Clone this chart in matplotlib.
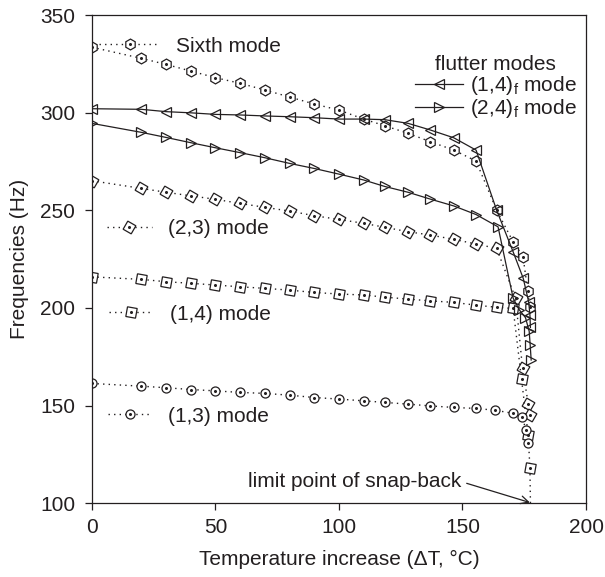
# frequencies of the panel vs temperature rise

import matplotlib
matplotlib.use('Agg')
import matplotlib.pyplot as plt

plt.rcParams['font.family'] = ['Liberation Sans', 'DejaVu Sans']
plt.rcParams['mathtext.fontset'] = 'custom'
plt.rcParams['mathtext.rm'] = 'Liberation Sans'
plt.rcParams['font.size'] = 15

# temperature steps shared by all modes (deg C)
temp_base = [0, 20, 30, 40, 50, 60, 70, 80, 90, 100, 110, 118.5, 128, 137, 146.5, 155.5]

# sixth mode
temp_sixth = temp_base + [163.8, 170.5, 174.5, 176.4, 177.2]
freq_sixth = [333.5, 327.8, 324.7, 321.3, 317.9, 315.0, 311.6, 308.0, 304.4, 301.3,
              296.7, 293.3, 289.4, 285.1, 280.8, 275.2, 250.1, 233.8, 226.3, 208.8, 200.6]

# flutter modes
temp_14f = temp_base + [163.8, 170.5, 174.6, 176.8, 177.3, 177.5]
freq_14f = [302.0, 301.7, 300.5, 299.9, 299.1, 298.8, 298.3, 297.9, 297.4, 296.7,
            296.7, 296.4, 294.5, 291.1, 287.1, 280.8, 250.1, 228.7, 215.1, 203.0, 196.3, 190.0]
temp_24f = temp_base + [164.4, 170.5, 173.0, 175.5, 177.0, 177.4, 177.8]
freq_24f = [294.5, 289.9, 287.3, 284.6, 282.0, 279.5, 276.9, 274.0, 271.4, 268.5,
            265.5, 262.2, 259.2, 255.7, 252.2, 247.8, 241.5, 205.0, 199.0, 195.0, 188.0, 181.0, 173.3]

# (2,3) mode
temp_23 = temp_base + [163.8, 171.5, 174.3, 176.6, 177.3]
freq_23 = [265.1, 261.2, 259.2, 257.4, 255.6, 253.5, 251.5, 249.6, 247.2, 245.3,
           243.3, 241.3, 239.0, 237.3, 235.1, 232.7, 230.5, 205.0, 169.0, 151.0, 145.2]

# (1,4) mode
temp_14 = temp_base + [163.8, 170.5, 173.9, 176.6, 177.3, 177.6]
freq_14 = [215.9, 214.6, 213.4, 212.6, 211.7, 210.8, 210.0, 209.1, 207.9, 207.1,
           206.6, 205.5, 204.5, 203.6, 202.8, 201.4, 200.3, 199.7, 163.4, 134.8, 117.8, 92.0]

# (1,3) mode
temp_13 = temp_base + [163.1, 170.5, 173.9, 175.9, 176.6]
freq_13 = [161.3, 159.9, 159.1, 158.2, 157.5, 156.7, 156.2, 155.3, 154.1, 153.3,
           152.4, 151.6, 150.7, 149.8, 149.0, 148.5, 147.6, 146.0, 144.2, 137.4, 130.6]

ink = '#231f20'
dots = (0, (1, 3))

fig = plt.figure(figsize=(6.05, 5.77), dpi=100)
ax = fig.add_axes([0.152, 0.128, 0.8166, 0.846])


def mode_curve(T, F, marker, ms):
    line, = ax.plot(T, F, ls=dots, lw=1.0, color=ink, marker=marker, ms=ms,
                    mfc='white', mec=ink, mew=0.9)
    dot, = ax.plot(T, F, ls='none', marker='o', ms=1.2, color=ink)
    return (line, dot)


def flutter_curve(T, F, marker):
    line, = ax.plot(T, F, ls='-', lw=0.9, color=ink, marker=marker, ms=7,
                    mfc='none', mec=ink, mew=0.9)
    return line


h_sixth = mode_curve(temp_sixth, freq_sixth, 'h', 7.8)
h_23 = mode_curve(temp_23, freq_23, (4, 0, 15), 9.5)
h_14 = mode_curve(temp_14, freq_14, (4, 0, 35), 10)
h_13 = mode_curve(temp_13, freq_13, 'o', 6.5)
h_14f = flutter_curve(temp_14f, freq_14f, '<')
h_24f = flutter_curve(temp_24f, freq_24f, '>')

ax.set_xlim(0, 200)
ax.set_ylim(100, 350)
ax.set_xticks([0, 50, 100, 150, 200])
ax.set_yticks([100, 150, 200, 250, 300, 350])
ax.tick_params(direction='out', length=5, width=0.9, colors=ink, labelsize=15)
ax.tick_params(axis='x', pad=6)
ax.tick_params(axis='y', pad=7)
for sp in ax.spines.values():
    sp.set_linewidth(0.9)
    sp.set_color(ink)

ax.set_xlabel('Temperature increase (ΔT, °C)', fontsize=15, color=ink, labelpad=9)
ax.set_ylabel('Frequencies (Hz)', fontsize=15, color=ink, labelpad=8)

# inline labels for the modes
mode_keys = [
    (h_sixth, 'Sixth mode', (3, 334), 2.9),
    (h_23, '(2,3) mode', (6, 240.7), 2.15),
    (h_14, '(1,4) mode', (7, 196.8), 2.1),
    (h_13, '(1,3) mode', (6.5, 144.6), 2.1),
]
for handle, text, anchor, hl in mode_keys:
    leg = ax.legend([handle], [text], loc='center left', bbox_to_anchor=anchor,
                    bbox_transform=ax.transData, frameon=False, handlelength=hl,
                    handletextpad=0.8, borderpad=0, borderaxespad=0, numpoints=1,
                    fontsize=15, labelcolor=ink)
    ax.add_artist(leg)

leg = ax.legend([h_14f, h_24f], ['(1,4)$_\\mathrm{f}$ mode', '(2,4)$_\\mathrm{f}$ mode'],
                title='flutter modes', loc='center', bbox_to_anchor=(163.5, 312.9),
                bbox_transform=ax.transData, frameon=False, handlelength=2.3,
                handletextpad=0.35, labelspacing=0.0, borderpad=0, borderaxespad=0,
                numpoints=1, fontsize=15, title_fontsize=15, labelcolor=ink)
leg.get_title().set_color(ink)

ax.annotate('limit point of snap-back', xy=(177.3, 100.3), xytext=(149.5, 111),
            ha='right', va='center', color=ink, fontsize=15,
            arrowprops=dict(arrowstyle='->', color=ink, lw=0.9, shrinkA=2, shrinkB=0,
                            mutation_scale=14, relpos=(1, 0.5)))

fig.savefig('out.png', dpi=100)
